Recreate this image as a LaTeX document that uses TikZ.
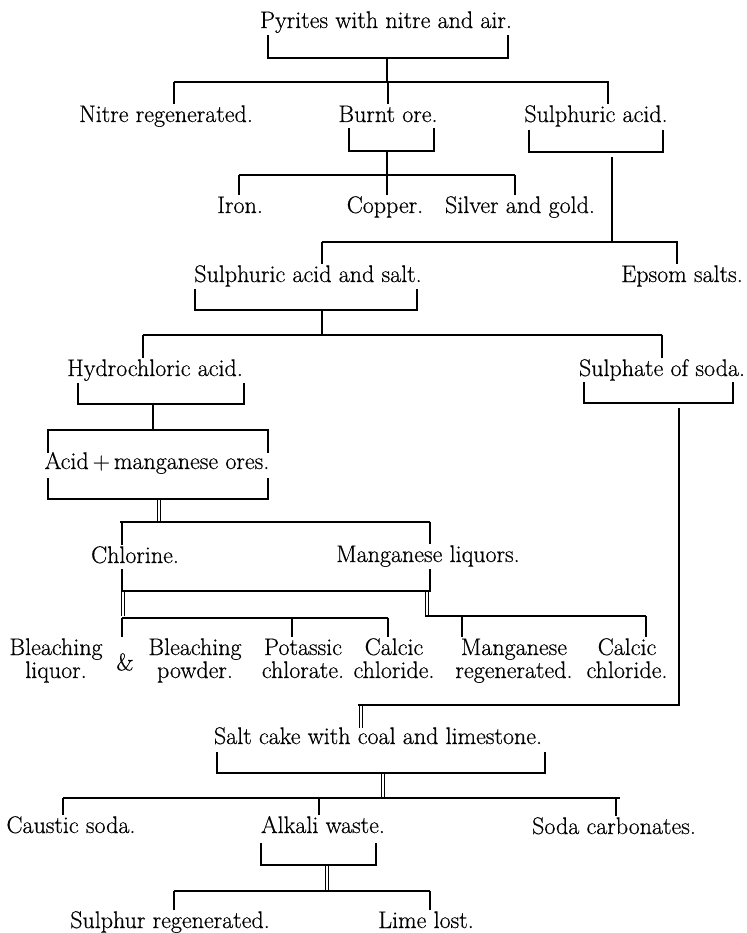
\documentclass[tikz,border=0pt]{standalone}
\usepackage{fontspec}
\newfontfamily\oldface{Latin Modern Roman}[FakeBold=0.5]
\begin{document}
\begin{tikzpicture}[x=1pt,y=-1pt,
  lbl/.style={font=\oldface\fontsize{24}{23}\selectfont, inner sep=1pt, anchor=base},
  two/.style={lbl, align=center},
  br/.style={line width=1.1pt},
  stem/.style={line width=1.9pt},
  dbl/.style={line width=0.9pt}]
\useasboundingbox (0,0) rectangle (746,933);
% ---------- text nodes ----------
\node[lbl] (pyr) at (386,28) {Pyrites with nitre and air.};
\node[lbl] (nitre) at (166,122) {Nitre regenerated.};
\node[lbl] (burnt) at (388,122) {Burnt ore.};
\node[lbl] (sulph) at (596,122) {Sulphuric acid.};
\node[lbl] (iron) at (240,213) {Iron.};
\node[lbl] (copper) at (385,213) {Copper.};
\node[lbl] (silver) at (520,213) {Silver and gold.};
\node[lbl] (sas) at (308,282) {Sulphuric acid and salt.};
\node[lbl] (epsom) at (682,282) {Epsom salts.};
\node[lbl] (hcl) at (155,376) {Hydrochloric acid.};
\node[lbl] (soda) at (662,376) {Sulphate of soda.};
\node[lbl] (acid) at (157,469) {Acid\,+\,manganese ores.};
\node[lbl] (chlor) at (135,563) {Chlorine.};
\node[lbl] (mnliq) at (428,562) {Manganese liquors.};
\node[two] (bliq) at (56,678) {Bleaching\\liquor.};
\node[lbl, anchor=center] (amp) at (125,662) {\&};
\node[two] (bpow) at (195,678) {Bleaching\\powder.};
\node[two] (potas) at (303,678) {Potassic\\chlorate.};
\node[two] (calc1) at (394,678) {Calcic\\chloride.};
\node[two] (mnreg) at (514,678) {Manganese\\regenerated.};
\node[two] (calc2) at (627,678) {Calcic\\chloride.};
\node[lbl] (salt) at (378,744) {Salt cake with coal and limestone.};
\node[lbl] (caustic) at (71,833) {Caustic soda.};
\node[lbl] (alkali) at (323,833) {Alkali waste.};
\node[lbl] (sodacarb) at (614,834) {Soda carbonates.};
\node[lbl] (sulphur) at (170,928) {Sulphur regenerated.};
\node[lbl] (lime) at (426,928) {Lime lost.};
% ---------- junction coordinates ----------
\coordinate (a1) at (174,82);  \coordinate (a2) at (388,82);  \coordinate (a3) at (608,82);
\coordinate (b1) at (239,175); \coordinate (b2) at (387,175); \coordinate (b3) at (515,175);
\coordinate (c1) at (322,242); \coordinate (c2) at (677,242);
\coordinate (d1) at (143,335); \coordinate (d2) at (662,335);
\coordinate (e1) at (122,522); \coordinate (e2) at (430,522);
\coordinate (f1) at (122,618); \coordinate (f2) at (292,618); \coordinate (f3) at (388,618);
\coordinate (g1) at (462,616); \coordinate (g2) at (646,616);
\coordinate (h1) at (63,798);  \coordinate (h2) at (319,798); \coordinate (h3) at (616,798);
\coordinate (k1) at (174,891); \coordinate (k2) at (430,891);
% ---------- Pyrites ----------
\draw[br] (268,35) -- (268,58) -- (508,58) -- (508,35);
\draw[stem] (387,58) -- (387,82);
\draw[br] (a1) -- (609,82);
\draw[br] (a1) -- (a1 |- nitre.north);
\draw[br] (a2) -- (a2 |- burnt.north);
\draw[br] (a3) -- (a3 |- sulph.north);
% ---------- Burnt ore ----------
\draw[br] (349,128) -- (349,151) -- (434,151) -- (434,128);
\draw[stem] (387,151) -- (b2);
\draw[br] (b1) -- (b3);
\draw[br] (b1) -- (b1 |- iron.north);
\draw[br] (b2) -- (b2 |- copper.north);
\draw[br] (b3) -- (b3 |- silver.north);
% ---------- Sulphuric acid ----------
\draw[br] (529,130) -- (529,152) -- (663,152) -- (663,130);
\draw[br] (612,157) -- (612,242);
\draw[br] (c1) -- (678,242);
\draw[br] (c1) -- (c1 |- sas.north);
\draw[br] (c2) -- (c2 |- epsom.north);
% ---------- Sulphuric acid and salt ----------
\draw[br] (195,289) -- (195,310) -- (417,310) -- (417,289);
\draw[stem] (322,310) -- (322,335);
\draw[br] (d1) -- (d2);
\draw[br] (d1) -- (d1 |- hcl.north);
\draw[br] (d2) -- (d2 |- soda.north);
% ---------- Hydrochloric acid ----------
\draw[br] (78,383) -- (78,404) -- (244,404) -- (244,383);
\draw[stem] (153,404) -- (153,430);
\draw[br] (48,453) -- (48,430) -- (268,430) -- (268,453);
\draw[br] (48,478) -- (48,499) -- (268,499) -- (268,478);
\draw[dbl] (157,499) -- (157,522);
\draw[dbl] (160.5,499) -- (160.5,522);
% ---------- Chlorine / Manganese liquors ----------
\draw[br] (120,522) -- (e2);
\draw[br] (e1) -- (e1 |- chlor.north);
\draw[br] (e2) -- (e2 |- mnliq.north);
\draw[br] (122,569) -- (122,591) -- (430,591) -- (430,569);
\draw[dbl] (121,591) -- (121,616);
\draw[dbl] (124.5,591) -- (124.5,616);
\draw[dbl] (425,591) -- (425,616);
\draw[dbl] (428.5,591) -- (428.5,616);
\draw[br] (f1) -- (f3);
\draw[br] (f1) -- (f1 |- bpow.north);
\draw[br] (f2) -- (f2 |- potas.north);
\draw[br] (f3) -- (f3 |- calc1.north);
\draw[br] (425,616) -- (g2);
\draw[br] (g1) -- (g1 |- mnreg.north);
\draw[br] (g2) -- (g2 |- calc2.north);
% ---------- Sulphate of soda ----------
\draw[br] (584,382) -- (584,403) -- (733,403) -- (733,382);
\draw[br] (679,408) -- (679,705) -- (358,705);
\draw[dbl] (359,705) -- (359,728);
\draw[dbl] (362.5,705) -- (362.5,728);
% ---------- Salt cake ----------
\draw[br] (217,752) -- (217,773) -- (545,773) -- (545,752);
\draw[dbl] (381,773) -- (381,797);
\draw[dbl] (384.5,773) -- (384.5,797);
\draw[br] (h1) -- (620,798);
\draw[br] (h1) -- (h1 |- caustic.north);
\draw[br] (h2) -- (h2 |- alkali.north);
\draw[br] (h3) -- (h3 |- sodacarb.north);
% ---------- Alkali waste ----------
\draw[br] (261,843) -- (261,865) -- (376,865) -- (376,843);
\draw[dbl] (325,865) -- (325,890);
\draw[dbl] (328.5,865) -- (328.5,890);
\draw[br] (k1) -- (k2);
\draw[br] (k1) -- (k1 |- sulphur.north);
\draw[br] (k2) -- (k2 |- lime.north);
\end{tikzpicture}
\end{document}
